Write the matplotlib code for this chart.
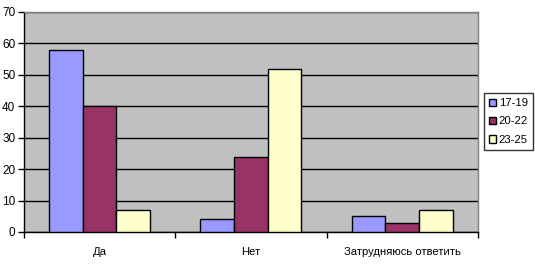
import matplotlib
matplotlib.use("Agg")
import matplotlib.pyplot as plt
import numpy as np

categories = ["Да", "Нет", "Затрудняюсь ответить"]
series_names = ["17-19", "20-22", "23-25"]
s17_19 = [58, 4, 5]
s20_22 = [40, 24, 3]
s23_25 = [7, 52, 7]
yticks = [0, 10, 20, 30, 40, 50, 60, 70]

colors = ["#9999FF", "#993366", "#FFFFCC"]

plt.rcParams['font.family'] = ['Liberation Sans', 'DejaVu Sans']

fig = plt.figure(figsize=(5.35, 2.65), dpi=100)
ax = fig.add_axes([23.7/535, 1-232/265, (478-23.7)/535, (232-12)/265])
ax.set_facecolor("#C0C0C0")

x = np.arange(len(categories))
w = 1/4.5
data = [s17_19, s20_22, s23_25]
handles = []
for i, (vals, c, name) in enumerate(zip(data, colors, series_names)):
    b = ax.bar(x + (i-1)*w, vals, w, color=c, edgecolor="black", linewidth=1.0,
               label=name, zorder=3)
    handles.append(b)

ax.set_xlim(-0.5, 2.5)
ax.set_ylim(0, 70)
ax.set_yticks(yticks)
ax.set_yticklabels([str(v) for v in yticks])
ax.yaxis.grid(True, color="black", linewidth=1.0, zorder=1)
ax.set_axisbelow(True)

ax.set_xticks([-0.5, 0.5, 1.5, 2.5])
ax.set_xticklabels([])
ax.set_xticks(x, minor=True)
ax.set_xticklabels(categories, minor=True)
ax.tick_params(axis='x', which='minor', length=0, pad=10.5, labelsize=8.1)
ax.tick_params(axis='x', which='major', length=4, width=1, direction='out', color='black')
ax.tick_params(axis='y', length=4, width=1, direction='out', labelsize=8.5, pad=2)

for s in ['left', 'bottom']:
    ax.spines[s].set_color('black')
    ax.spines[s].set_linewidth(1.0)
for s in ['top', 'right']:
    ax.spines[s].set_color('#808080')
    ax.spines[s].set_linewidth(1.0)

leg = fig.legend(handles=handles, labels=series_names, loc='center',
                 bbox_to_anchor=(508.5/535, 1-121.5/265), fontsize=8.1,
                 frameon=True, fancybox=False, edgecolor='black',
                 handlelength=0.6, handleheight=0.6, handletextpad=0.25,
                 borderpad=0.45, labelspacing=0.75, borderaxespad=0)
leg.get_frame().set_linewidth(1.0)

fig.savefig("out.png", dpi=100)
